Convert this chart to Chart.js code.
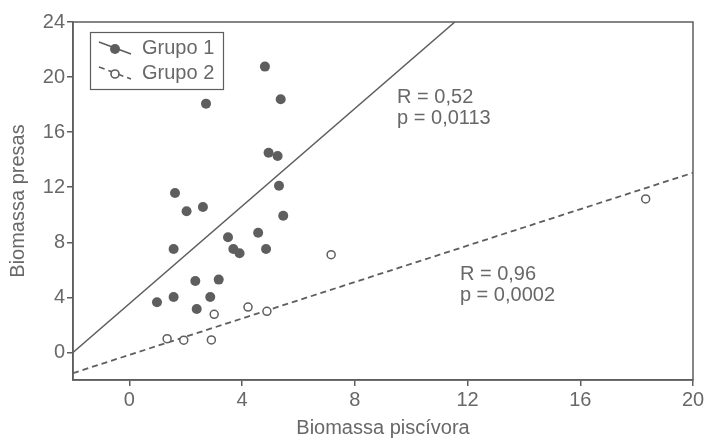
<!DOCTYPE html>
<html>
<head>
<meta charset="utf-8">
<script src="https://cdn.jsdelivr.net/npm/chart.js@4.4.1/dist/chart.umd.min.js"></script>
<style>
  body { margin: 0; background: #fff; }
</style>
</head>
<body>
<canvas id="bioChart" width="708" height="441"></canvas>
<script>
// Grupo 1 (filled points)
const g1X = [4.81, 2.72, 5.37, 4.94, 5.26, 5.31, 1.62, 2.03, 2.61, 5.46, 3.50, 4.57, 1.57, 3.69, 3.91, 4.85, 2.34, 3.17, 0.98, 1.57, 2.87, 2.39];
const g1Y = [20.76, 18.07, 18.39, 14.51, 14.27, 12.11, 11.58, 10.25, 10.57, 9.93, 8.37, 8.70, 7.52, 7.52, 7.20, 7.52, 5.19, 5.29, 3.65, 4.03, 4.03, 3.16];

// Grupo 2 (open points)
const g2X = [7.16, 3.01, 4.21, 4.88, 1.34, 1.93, 2.91, 18.32];
const g2Y = [7.10, 2.77, 3.30, 2.99, 1.00, 0.89, 0.91, 11.15];

// regression lines, end points
const fit1X = [-2, 11.55];
const fit1Y = [0, 24];
const fit2X = [-2, 20];
const fit2Y = [-1.5, 13.05];

const groupLabels = ['Grupo 1', 'Grupo 2'];
const statsText = [['R = 0,52', 'p = 0,0113'], ['R = 0,96', 'p = 0,0002']];
const statsAt = [[9.5, 18.55], [11.73, 5.63]];

const xTicks = [0, 4, 8, 12, 16, 20];
const yTicks = [0, 4, 8, 12, 16, 20, 24];

const gray = '#5e5e5e';
const textGray = '#686868';
const font = 'Liberation Sans, Arial, sans-serif';
const fontSize = 20;

const toPoints = (xs, ys) => xs.map((x, i) => ({ x: x, y: ys[i] }));

// box round the plot, legend and R/p text
const extras = {
    id: 'extras',
    afterDraw(chart) {
        const { ctx, chartArea: a, scales } = chart;
        ctx.save();
        ctx.strokeStyle = gray;
        ctx.lineWidth = 1.5;
        ctx.strokeRect(a.left, a.top, a.right - a.left, a.bottom - a.top);

        // legend
        const lx = a.left + 17, ly = a.top + 10;
        ctx.lineWidth = 1.2;
        ctx.strokeRect(lx + 0.5, ly + 0.5, 133, 57);
        const rows = [ly + 16, ly + 41];
        rows.forEach((cy, i) => {
            const cx = lx + 25;
            ctx.strokeStyle = gray;
            ctx.lineWidth = 1.6;
            ctx.setLineDash(i === 0 ? [] : [6, 4]);
            ctx.beginPath();
            ctx.moveTo(cx - 16, cy - 6);
            ctx.lineTo(cx + 16, cy + 6);
            ctx.stroke();
            ctx.setLineDash([]);
            ctx.beginPath();
            ctx.arc(cx, cy + 1, i === 0 ? 5 : 4, 0, Math.PI * 2);
            if (i === 0) {
                ctx.fillStyle = gray;
                ctx.fill();
            } else {
                ctx.fillStyle = '#fff';
                ctx.fill();
                ctx.stroke();
            }
            ctx.fillStyle = textGray;
            ctx.font = fontSize + 'px ' + font;
            ctx.textAlign = 'left';
            ctx.textBaseline = 'middle';
            ctx.fillText(groupLabels[i], lx + 52, cy);
        });

        // R and p values
        ctx.font = fontSize + 'px ' + font;
        ctx.fillStyle = textGray;
        statsText.forEach((lines, i) => {
            const px = scales.x.getPixelForValue(statsAt[i][0]);
            const py = scales.y.getPixelForValue(statsAt[i][1]);
            lines.forEach((t, j) => ctx.fillText(t, px, py + j * 21));
        });
        ctx.restore();
    }
};

const ctx = document.getElementById('bioChart').getContext('2d');
new Chart(ctx, {
    type: 'scatter',
    data: {
        datasets: [
            {
                label: groupLabels[0],
                data: toPoints(g1X, g1Y),
                pointRadius: 5,
                pointBackgroundColor: gray,
                pointBorderWidth: 0,
                order: 1
            },
            {
                label: groupLabels[1],
                data: toPoints(g2X, g2Y),
                pointRadius: 4,
                pointBackgroundColor: '#fff',
                pointBorderColor: gray,
                pointBorderWidth: 1.5,
                order: 1
            },
            {
                type: 'line',
                data: toPoints(fit1X, fit1Y),
                borderColor: gray,
                borderWidth: 1.5,
                pointRadius: 0,
                fill: false,
                order: 2
            },
            {
                type: 'line',
                data: toPoints(fit2X, fit2Y),
                borderColor: gray,
                borderWidth: 1.8,
                borderDash: [6, 4],
                pointRadius: 0,
                fill: false,
                order: 2
            }
        ]
    },
    options: {
        responsive: false,
        animation: false,
        layout: { padding: { left: 0, right: 15, top: 22, bottom: 0 } },
        plugins: {
            legend: { display: false },
            tooltip: { enabled: false }
        },
        scales: {
            x: {
                type: 'linear',
                min: -2,
                max: 20,
                afterBuildTicks: s => { s.ticks = xTicks.map(v => ({ value: v })); },
                afterFit: s => { s.height = 61; },
                grid: { drawOnChartArea: false, color: gray, lineWidth: 1.5, tickLength: 6 },
                border: { color: gray, width: 1.5 },
                ticks: { color: textGray, font: { family: font, size: fontSize }, padding: 2, maxRotation: 0 },
                title: {
                    display: true,
                    text: 'Biomassa piscívora',
                    color: textGray,
                    font: { family: font, size: fontSize },
                    padding: { top: 0, bottom: 1 }
                }
            },
            y: {
                min: -2,
                max: 24,
                afterBuildTicks: s => { s.ticks = yTicks.map(v => ({ value: v })); },
                afterFit: s => { s.width = 73; },
                grid: { drawOnChartArea: false, color: gray, lineWidth: 1.5, tickLength: 6 },
                border: { color: gray, width: 1.5 },
                ticks: { color: textGray, font: { family: font, size: fontSize }, padding: 2 },
                title: {
                    display: true,
                    text: 'Biomassa presas',
                    color: textGray,
                    font: { family: font, size: fontSize },
                    padding: { top: 6, bottom: 0 }
                }
            }
        }
    },
    plugins: [extras]
});
</script>
</body>
</html>
